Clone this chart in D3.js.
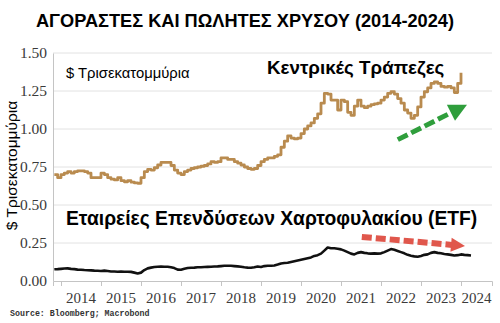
<!DOCTYPE html>
<html>
<head>
<meta charset="utf-8">
<script src="https://cdn.jsdelivr.net/npm/d3@7"></script>
<style>
  html, body { margin: 0; padding: 0; background: #fff; }
  svg { display: block; }
</style>
</head>
<body>
<svg id="chart" width="500" height="323"></svg>
<script>
// months run from Nov 2013, one value per month
const startYear = 2013 + 10 / 12;

const yTicks = [0, 0.25, 0.5, 0.75, 1.0, 1.25, 1.5];
const yearLabels = [2014, 2015, 2016, 2017, 2018, 2019, 2020, 2021, 2022, 2023, 2024];

// Central banks, $ trillions (monthly, Nov 2013 - Jan 2024)
const centralBanks = [
    0.70, 0.68,
    0.70, 0.71, 0.72, 0.71, 0.72, 0.725, 0.725, 0.72, 0.71, 0.68, 0.68, 0.68,
    0.71, 0.70, 0.68, 0.67, 0.665, 0.68, 0.66, 0.653, 0.66, 0.65, 0.645, 0.643,
    0.68, 0.72, 0.735, 0.73, 0.745, 0.763, 0.78, 0.78, 0.78, 0.76, 0.73, 0.71,
    0.70, 0.72, 0.73, 0.74, 0.745, 0.75, 0.755, 0.76, 0.77, 0.785, 0.78, 0.785,
    0.81, 0.81, 0.80, 0.80, 0.785, 0.775, 0.763, 0.75, 0.74, 0.735, 0.74, 0.76,
    0.785, 0.80, 0.81, 0.81, 0.82, 0.83, 0.88, 0.92, 0.955, 0.94, 0.935, 0.94,
    0.97, 1.00, 1.02, 1.04, 1.07, 1.10, 1.17, 1.235, 1.23, 1.19, 1.19, 1.125,
    1.19, 1.18, 1.11, 1.09, 1.15, 1.19, 1.15, 1.14, 1.15, 1.16, 1.165, 1.17,
    1.19, 1.21, 1.235, 1.245, 1.23, 1.20, 1.17, 1.125, 1.105, 1.07, 1.09, 1.145,
    1.21, 1.245, 1.27, 1.30, 1.31, 1.30, 1.28, 1.275, 1.28, 1.27, 1.24, 1.30,
    1.37
];

// Gold ETFs, $ trillions (monthly, Nov 2013 - Apr 2024)
const etfs = [
    0.077, 0.078,
    0.080, 0.082, 0.083, 0.080, 0.078, 0.075, 0.074, 0.072, 0.071, 0.070, 0.068, 0.067,
    0.066, 0.068, 0.066, 0.063, 0.062, 0.061, 0.062, 0.061, 0.061, 0.060, 0.055, 0.050,
    0.055, 0.072, 0.083, 0.088, 0.092, 0.094, 0.095, 0.094, 0.094, 0.090, 0.085, 0.075,
    0.074, 0.080, 0.085, 0.087, 0.088, 0.090, 0.090, 0.092, 0.093, 0.094, 0.095, 0.096,
    0.098, 0.100, 0.100, 0.100, 0.098, 0.096, 0.094, 0.090, 0.088, 0.087, 0.090, 0.095,
    0.092, 0.098, 0.100, 0.100, 0.102, 0.108, 0.115, 0.118, 0.120, 0.125, 0.130, 0.135,
    0.140, 0.145, 0.150, 0.155, 0.165, 0.170, 0.180, 0.200, 0.220, 0.215, 0.215, 0.212,
    0.208, 0.200, 0.190, 0.180, 0.175, 0.185, 0.190, 0.185, 0.182, 0.180, 0.182, 0.180,
    0.182, 0.190, 0.200, 0.210, 0.205, 0.198, 0.190, 0.182, 0.172, 0.166, 0.162, 0.160,
    0.165, 0.172, 0.175, 0.185, 0.190, 0.185, 0.182, 0.178, 0.175, 0.172, 0.168, 0.170,
    0.175, 0.172, 0.170, 0.168
];

// trend arrows: [year, value] from -> to
const upArrow = [[2022.42, 0.93], [2024.15, 1.16]];
const downArrow = [[2021.52, 0.29], [2024.10, 0.23]];

const svg = d3.select("#chart");
const margin = { left: 53, right: 8, top: 53, bottom: 42 };
const width = 500, height = 323;

const x = d3.scaleLinear()
    .domain([2013.8, 2024.775])
    .range([margin.left, width - margin.right]);

const y = d3.scaleLinear()
    .domain([0, 1.5])
    .range([height - margin.bottom, margin.top]);

const toPoints = values => values.map((v, i) => [startYear + i / 12, v]);

/**
 * drawAxes: Function
 * grid lines, left and bottom axis lines, tick labels.
 */
function drawAxes() {
    svg.append("g")
        .selectAll("line")
        .data(yTicks.filter(d => d > 0))
        .enter()
        .append("line")
        .attr("x1", x.range()[0])
        .attr("x2", x.range()[1])
        .attr("y1", d => y(d))
        .attr("y2", d => y(d))
        .attr("stroke", "#e2e2e2")
        .attr("stroke-width", 1);

    svg.append("text")
        .attr("x", 0).attr("y", 0)
        .attr("transform", `translate(17,${y(0.76)}) rotate(-90)`)
        .attr("text-anchor", "middle")
        .attr("font-family", "Liberation Sans, Arial, sans-serif")
        .attr("font-size", 15.5)
        .attr("fill", "#000")
        .text("$ Τρισεκατομμύρια");

    const yAxis = d3.axisLeft(y)
        .tickValues(yTicks)
        .tickSize(0)
        .tickPadding(6)
        .tickFormat(d3.format(".2f"));

    const gy = svg.append("g")
        .attr("transform", `translate(${margin.left},0)`)
        .call(yAxis);
    gy.select(".domain").attr("stroke", "#c4c4c4");
    gy.selectAll("text")
        .attr("font-family", "Liberation Serif, serif")
        .attr("font-size", 15.5)
        .attr("fill", "#3a3a3a");

    // year boundaries get the ticks, labels sit mid-year
    const xAxis = d3.axisBottom(x)
        .tickValues(d3.range(2014, 2025))
        .tickSize(5)
        .tickFormat("");

    const gx = svg.append("g")
        .attr("transform", `translate(0,${y(0)})`)
        .call(xAxis);
    gx.select(".domain").attr("stroke", "#c4c4c4");
    gx.selectAll(".tick line").attr("stroke", "#c4c4c4");

    svg.append("g")
        .selectAll("text")
        .data(yearLabels)
        .enter()
        .append("text")
        .attr("x", d => d < 2024 ? x(d + 0.5) : (x(d) + x.range()[1]) / 2)
        .attr("y", y(0) + 22)
        .attr("text-anchor", "middle")
        .attr("font-family", "Liberation Serif, serif")
        .attr("font-size", 15)
        .attr("fill", "#3a3a3a")
        .text(d => d);
}

/**
 * drawSeries: Function
 * draws one line series.
 */
function drawSeries(values, color, curve, strokeWidth) {
    const line = d3.line()
        .x(d => x(d[0]))
        .y(d => y(d[1]))
        .curve(curve);

    svg.append("path")
        .datum(toPoints(values))
        .attr("d", line)
        .attr("fill", "none")
        .attr("stroke", color)
        .attr("stroke-width", strokeWidth)
        .attr("stroke-linejoin", "round");
}

/**
 * drawArrow: Function
 * dashed trend arrow with a solid triangular head.
 */
function drawArrow(points, color, headLen, headWidth, strokeWidth, dash) {
    const [x0, y0] = [x(points[0][0]), y(points[0][1])];
    const [x1, y1] = [x(points[1][0]), y(points[1][1])];
    const angle = Math.atan2(y1 - y0, x1 - x0);
    const len = Math.hypot(x1 - x0, y1 - y0) - headLen;

    const g = svg.append("g")
        .attr("transform", `translate(${x0},${y0}) rotate(${angle * 180 / Math.PI})`);

    g.append("line")
        .attr("x1", 0).attr("y1", 0)
        .attr("x2", len).attr("y2", 0)
        .attr("stroke", color)
        .attr("stroke-width", strokeWidth)
        .attr("stroke-dasharray", dash);

    g.append("path")
        .attr("d", `M${len - 1},${-headWidth / 2}L${len + headLen},0L${len - 1},${headWidth / 2}Z`)
        .attr("fill", color);
}

drawAxes();
drawSeries(etfs, "#111", d3.curveLinear, 2.6);
drawSeries(centralBanks, "#b98b4f", d3.curveStepAfter, 2.8);

drawArrow(upArrow, "#2f9e3c", 17, 18, 5, "11,4");
drawArrow(downArrow, "#e0574c", 13, 14, 6, "10,4");

// texts
svg.append("text")
    .attr("x", 245).attr("y", 27)
    .attr("text-anchor", "middle")
    .attr("font-family", "Liberation Sans, Arial, sans-serif")
    .attr("font-weight", "bold")
    .attr("font-size", 18.2)
    .attr("fill", "#000")
    .text("ΑΓΟΡΑΣΤΕΣ ΚΑΙ ΠΩΛΗΤΕΣ ΧΡΥΣΟΥ (2014-2024)");

svg.append("text")
    .attr("x", 66).attr("y", 78)
    .attr("font-family", "Liberation Sans, Arial, sans-serif")
    .attr("font-size", 14.8)
    .attr("fill", "#000")
    .text("$ Τρισεκατομμύρια");

svg.append("text")
    .attr("x", 267).attr("y", 74)
    .attr("font-family", "Liberation Sans, Arial, sans-serif")
    .attr("font-weight", "bold")
    .attr("font-size", 18.8)
    .attr("fill", "#000")
    .text("Κεντρικές Τράπεζες");

svg.append("text")
    .attr("x", 66).attr("y", 225)
    .attr("font-family", "Liberation Sans, Arial, sans-serif")
    .attr("font-weight", "bold")
    .attr("font-size", 19.3)
    .attr("fill", "#000")
    .text("Εταιρείες Επενδύσεων Χαρτοφυλακίου (ETF)");

svg.append("text")
    .attr("x", 10).attr("y", 316)
    .attr("font-family", "Liberation Mono, DejaVu Sans Mono, monospace")
    .attr("font-weight", "bold")
    .attr("font-size", 8.3)
    .attr("fill", "#333")
    .text("Source: Bloomberg; Macrobond");
</script>
</body>
</html>
